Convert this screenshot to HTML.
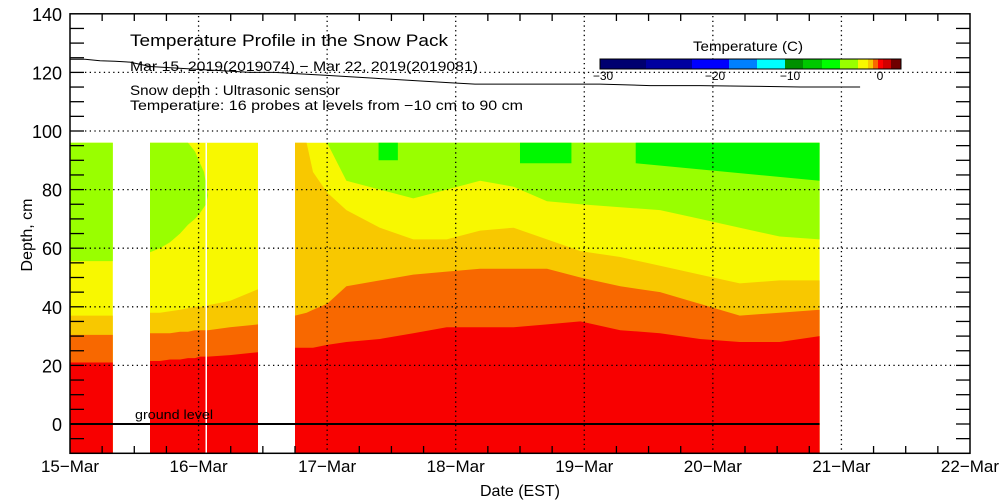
<!DOCTYPE html>
<html><head><meta charset="utf-8"><style>
body{margin:0;background:#fff;}
svg{display:block;font-family:"Liberation Sans",sans-serif;}
</style></head><body>
<svg id="chart" width="1000" height="500" viewBox="0 0 1000 500"></svg>
<script>
// ---- data ----
const seg1Times=[0,0.333];
const seg1LimeTop=[96,96];
const seg1LimeBottom=[55.6,55.6];
const seg1YellowBottom=[37,37];
const seg1OrangeTop=[30.4,30.4];
const seg1RedTop=[21,21];

const seg2Times=[0.622,0.700,0.778,0.856,0.918,0.972,1.011,1.042,1.058,1.073,1.244,1.462];
const seg2LimeTop=[96,96,96,96,96,93,89,86,82,78,78,78];
const seg2LimeBottom=[58.6,60,62,65,68,70,72,74,75,78,78,78];
const seg2YellowBottom=[38,38,38.5,39,39.5,40,40,40,40,40.5,42,46];
const seg2OrangeTop=[31,31,31,31.5,31.5,32,32,32,32,32,33,34];
const seg2RedTop=[21.5,21.5,22,22,22.5,22.5,23,23,23,23,23.5,24.5];

const seg3Times=[1.75,1.84,1.89,2.00,2.15,2.41,2.67,2.93,3.19,3.45,3.71,3.97,4.28,4.59,4.90,5.21,5.52,5.83];
const seg3LimeTop=[96,96,96,96,96,96,96,96,96,96,96,96,96,96,96,96,96,96];
const seg3LimeBottom=[96,96,96,96,83,80,77,80,83,81,76,75,74,73,70,67,64,63];
const seg3YellowBottom=[96,96,86,79,73,67,63,63,66,67,63,59,57,54,51,48,49,49];
const seg3OrangeTop=[37,38,39,41,47,49,51,52,53,53,53,50,47,45,41,37,38,39];
const seg3RedTop=[26,26,26,27,28,29,31,33,33,33,34,35,32,31,29,28,28,30];

const greenStart=[2.40,3.50,4.40];
const greenEnd=[2.55,3.90,5.83];
const greenDepthStart=[90,89,89];
const greenDepthEnd=[90,89,83];

const snowTimes=[0,0.117,0.233,0.35,0.467,0.622,0.817,1.011,1.206,1.4,1.594,1.789,1.983,2.178,2.372,2.567,2.761,2.956,3.15,3.345,3.734,4.123,4.512,4.9,5.29,5.68,6.145];
const snowDepth=[124.5,124.5,124,123.8,123.5,122,121.5,121,120.5,120,120,119.5,119,118.5,118,117.5,117,116.5,116,116,116,116,115.5,115.5,115.3,115,115];

const yTicks=[140,120,100,80,60,40,20,0];
const xTickLabels=["15\u2212Mar","16\u2212Mar","17\u2212Mar","18\u2212Mar","19\u2212Mar","20\u2212Mar","21\u2212Mar","22\u2212Mar"];
const cbLabels=["\u221230","\u221220","\u221210","0"];

// ---- scales ----
const X=t=>70+t*128.57;
const Y=d=>424-d*2.93;
const NS="http://www.w3.org/2000/svg";
const svg=document.getElementById('chart');
function mk(tag,attrs,parent){const e=document.createElementNS(NS,tag);for(const k in attrs)e.setAttribute(k,attrs[k]);(parent||svg).appendChild(e);return e;}
const C={lime:"#99ff00",green:"#00f800",yellow:"#f8f800",oy:"#f8c800",orange:"#f86800",red:"#f80000"};

function band(times,top,bottom,color,name){
  let pts=[];
  for(let i=0;i<times.length;i++)pts.push(X(times[i]).toFixed(1)+","+Y(top[i]).toFixed(1));
  for(let i=times.length-1;i>=0;i--)pts.push(X(times[i]).toFixed(1)+","+Y(bottom?bottom[i]:-10).toFixed(1));
  const p=mk('polygon',{points:pts.join(" "),fill:color});
  
  
}
const segs=[
 [seg1Times,seg1LimeTop,seg1LimeBottom,seg1YellowBottom,seg1OrangeTop,seg1RedTop],
 [seg2Times,seg2LimeTop,seg2LimeBottom,seg2YellowBottom,seg2OrangeTop,seg2RedTop],
 [seg3Times,seg3LimeTop,seg3LimeBottom,seg3YellowBottom,seg3OrangeTop,seg3RedTop]];
segs.forEach((s,k)=>{
  const [t,lt,lb,yb,ot,rt]=s;
  const full=t.map(()=>96);
  band(t,full,null,C.yellow,'yellow-band-'+(k+1));
  band(t,lt,lb,C.lime,'lime-band-'+(k+1));
  band(t,yb,null,C.oy,'orange-yellow-band-'+(k+1));
  band(t,ot,null,C.orange,'orange-band-'+(k+1));
  band(t,rt,null,C.red,'red-band-'+(k+1));
});
for(let i=0;i<greenStart.length;i++){
  const p=mk('polygon',{points:[X(greenStart[i])+","+Y(96),X(greenEnd[i])+","+Y(96),X(greenEnd[i])+","+Y(greenDepthEnd[i]),X(greenStart[i])+","+Y(greenDepthStart[i])].join(" "),fill:C.green});
  
  
}
mk('rect',{x:205.5,y:Y(96),width:1.5,height:Y(-10)-Y(96),fill:"#fff"});

// grid
const grid=mk('g',{stroke:"#000","stroke-width":1.3,"stroke-dasharray":"1.3 3.4",fill:"none"});


[120,100,80,60,40,20].forEach(v=>mk('line',{x1:85,x2:955,y1:Y(v),y2:Y(v)},grid));
for(let d=1;d<7;d++)mk('line',{x1:X(d),x2:X(d),y1:16,y2:451},grid);

// ground line
const gl=mk('line',{x1:70,x2:X(5.83),y1:Y(0),y2:Y(0),stroke:"#000","stroke-width":2});


const gt=mk('text',{x:135,y:419,"font-size":13,textLength:78,lengthAdjust:"spacingAndGlyphs"});gt.textContent="ground level";



// snow depth line
const sl=mk('polyline',{points:snowTimes.map((t,i)=>X(t).toFixed(1)+","+Y(snowDepth[i]).toFixed(1)).join(" "),fill:"none",stroke:"#000","stroke-width":1});



// axes frame & ticks
const fr=mk('rect',{x:70,y:Y(140),width:900,height:Y(-10)-Y(140),fill:"none",stroke:"#000","stroke-width":1.5});


const tk=mk('g',{stroke:"#000","stroke-width":1.3});
for(let v=-5;v<140;v+=5){mk('line',{x1:70,x2:84,y1:Y(v),y2:Y(v)},tk);mk('line',{x1:956,x2:970,y1:Y(v),y2:Y(v)},tk);}
for(let q=1;q<28;q++){if(q%4===0)continue;const x=X(q/4);mk('line',{x1:x,x2:x,y1:453,y2:446},tk);mk('line',{x1:x,x2:x,y1:14,y2:21},tk);}
yTicks.forEach(v=>{const t=mk('text',{x:62,y:Y(v)+7,"font-size":18,"text-anchor":"end"});t.textContent=v;
 
 });
xTickLabels.forEach((s,i)=>{const t=mk('text',{x:X(i),y:472,"font-size":17,"text-anchor":"middle"});t.textContent=s;
 
 });
const xt=mk('text',{x:520,y:496,"font-size":16,"text-anchor":"middle"});xt.textContent="Date (EST)";


const yt=mk('text',{x:32,y:235,"font-size":16,"text-anchor":"middle",transform:"rotate(-90 32 235)"});yt.textContent="Depth, cm";



// annotations
const ann=[["Temperature Profile in the Snow Pack",130,46,17,318,'chart-title'],["Mar 15, 2019(2019074) \u2212 Mar 22, 2019(2019081)",130,71,14,348,'date-range'],["Snow depth : Ultrasonic sensor",130,95,13.5,210,'snow-depth-note'],["Temperature: 16 probes at levels from \u221210 cm to 90 cm",130,110,13.5,393,'temperature-note']];
ann.forEach(a=>{const t=mk('text',{x:a[1],y:a[2],"font-size":a[3],textLength:a[4],lengthAdjust:"spacingAndGlyphs"});t.textContent=a[0];
 
 });

// colorbar
const cbg=mk('g',{});


const cbStops=[600,646,692,729,757,785,803,822,840,858,868,873,878,883,891,901];
const cbColors=["#000070","#0000a0","#0000ff","#0080ff","#00ffff","#009000","#00c800","#00ff00","#99ff00","#f8f800","#f8c800","#f86800","#ff0000","#d00000","#700000"];
cbColors.forEach((c,i)=>mk('rect',{x:cbStops[i],y:59,width:cbStops[i+1]-cbStops[i],height:10,fill:c},cbg));
mk('rect',{x:600,y:59,width:301,height:10,fill:"none",stroke:"#000","stroke-width":1},cbg);
const cbt=mk('text',{x:693,y:51,"font-size":14,textLength:110,lengthAdjust:"spacingAndGlyphs"},cbg);cbt.textContent="Temperature (C)";
const cbX=[603,715,790,880];
cbLabels.forEach((s,i)=>{const t=mk('text',{x:cbX[i],y:80,"font-size":12,"text-anchor":"middle"},cbg);t.textContent=s;});
</script>
</body></html>
